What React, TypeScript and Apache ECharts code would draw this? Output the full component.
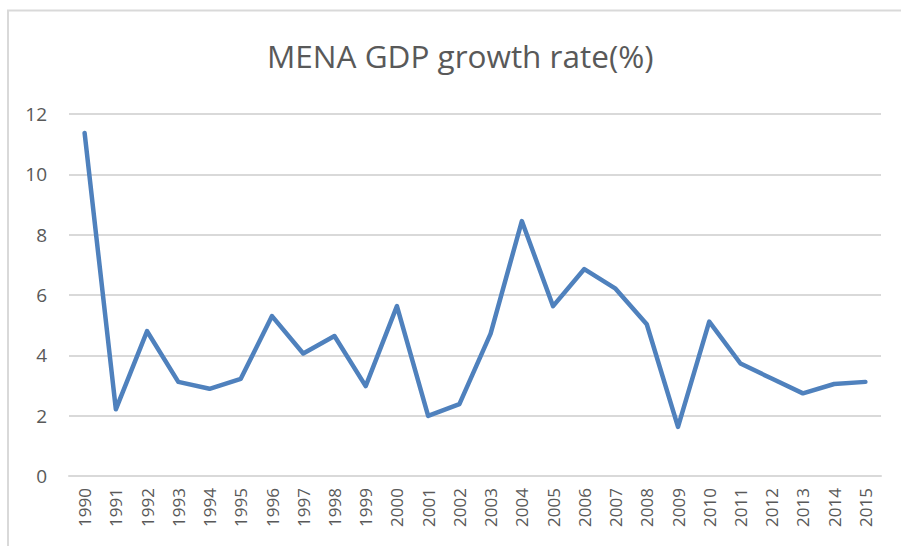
import React, { useEffect, useRef } from "react";
import * as echarts from "echarts";

const titleText = "MENA GDP growth rate(%)";
const years = [
  "1990", "1991", "1992", "1993", "1994", "1995", "1996", "1997", "1998", "1999",
  "2000", "2001", "2002", "2003", "2004", "2005", "2006", "2007", "2008", "2009",
  "2010", "2011", "2012", "2013", "2014", "2015",
];
const growth = [
  11.37, 2.21, 4.8, 3.12, 2.89, 3.22, 5.3, 4.06, 4.64, 2.98,
  5.63, 1.99, 2.38, 4.72, 8.45, 5.63, 6.86, 6.21, 5.03, 1.63,
  5.12, 3.73, 3.23, 2.74, 3.05, 3.12,
];
const yMin = 0;
const yMax = 12;
const yStep = 2;

export default function App() {
  const ref = useRef<HTMLDivElement>(null);
  useEffect(() => {
    document.body.style.margin = "0";
    if (!ref.current) return;
    const chart = echarts.init(ref.current, null, { renderer: "svg" });
    const font = "'Open Sans', 'Noto Sans', sans-serif";
    chart.setOption({
      animation: false,
      backgroundColor: "#ffffff",
      title: {
        text: titleText,
        left: 262,
        top: 34,
        textStyle: { fontFamily: font, fontSize: 31.5, fontWeight: "normal", color: "#595959" },
      },
      graphic: [
        {
          type: "rect",
          shape: { x: 8, y: 10.5, width: 1000, height: 1000 },
          style: { fill: "none", stroke: "#d9d9d9", lineWidth: 2 },
          silent: true,
        },
      ],
      grid: { left: 69, right: 20, top: 114, bottom: 70, containLabel: false },
      xAxis: {
        type: "category",
        data: years,
        boundaryGap: true,
        axisLine: { show: true, lineStyle: { color: "#d9d9d9", width: 2 } },
        axisTick: { show: false },
        axisLabel: {
          rotate: 90,
          interval: 0,
          margin: 12,
          fontFamily: font,
          fontSize: 17,
          color: "#595959",
        },
      },
      yAxis: {
        type: "value",
        min: yMin,
        max: yMax,
        interval: yStep,
        axisLine: { show: false },
        axisTick: { show: false },
        splitLine: { lineStyle: { color: "#d9d9d9", width: 2 } },
        axisLabel: { margin: 22, fontFamily: font, fontSize: 19, color: "#595959" },
      },
      series: [
        {
          type: "line",
          data: growth,
          symbol: "none",
          lineStyle: { color: "#4f81bd", width: 4.5, cap: "round", join: "round" },
        },
      ],
    });
    return () => chart.dispose();
  }, []);
  return <div ref={ref} style={{ width: 901, height: 546 }} />;
}
